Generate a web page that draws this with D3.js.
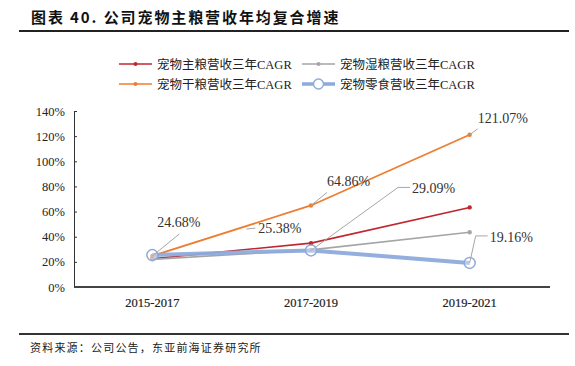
<!DOCTYPE html>
<html>
<head>
<meta charset="utf-8">
<script src="https://cdn.jsdelivr.net/npm/d3@7"></script>
<style>
  body { margin: 0; background: #fff; }
  svg { display: block; }
  text { font-family: "Liberation Serif", "Times New Roman", "Noto Sans CJK SC", serif; }
  .cjk { font-family: "Noto Sans CJK SC", "Liberation Sans", sans-serif; }
</style>
</head>
<body>
<svg id="chart"></svg>
<script>
//////////////// Daten ////////////////////
const kategorien = ["2015-2017", "2017-2019", "2019-2021"];

const zhuliang = [22.5, 34.9, 63.3];      // 宠物主粮
const shiliang = [22.0, 29.5, 43.6];      // 宠物湿粮
const ganliang = [24.68, 64.86, 121.07];  // 宠物干粮
const lingshi  = [25.38, 29.09, 19.16];   // 宠物零食

const yTicks = [0, 20, 40, 60, 80, 100, 120, 140];

const serien = [
  {name: "宠物主粮营收三年CAGR", werte: zhuliang, farbe: "#C0272D", breite: 1.6, typ: "dot"},
  {name: "宠物湿粮营收三年CAGR", werte: shiliang, farbe: "#A5A5A5", breite: 1.6, typ: "dot"},
  {name: "宠物干粮营收三年CAGR", werte: ganliang, farbe: "#ED7D31", breite: 1.8, typ: "dot"},
  {name: "宠物零食营收三年CAGR", werte: lingshi,  farbe: "#8EAADB", breite: 4,   typ: "ring"}
];

// Datenbeschriftungen: Serie, Kategorie, Text-Versatz, Knick der Fuehrungslinie
const beschriftungen = [
  {serie: 2, idx: 0, dx: 5,  dy: -34, knick: [27, -22]},
  {serie: 3, idx: 0, dx: 106, dy: -27, nurStub: true},
  {serie: 2, idx: 1, dx: 16, dy: -24, knick: [16, -13]},
  {serie: 2, idx: 2, dx: 8,  dy: -17, knick: [8, -6]},
  {serie: 3, idx: 1, dx: 101, dy: -62, knick: [87, -63], stub: true},
  {serie: 3, idx: 2, dx: 20, dy: -26, knick: [6, -27], stub: true}
];

//////////////// SVG ////////////////////
const W = 575, H = 366;
const svg = d3.select("#chart").attr("width", W).attr("height", H);

// Titel
svg.append("text")
  .attr("x", 31).attr("y", 23)
  .attr("font-size", 15).attr("font-weight", "bold")
  .attr("letter-spacing", 1.9)
  .attr("fill", "#111")
  .attr("class", "cjk")
  .text("图表 40. 公司宠物主粮营收年均复合增速");
svg.append("line")
  .attr("x1", 19).attr("x2", 569).attr("y1", 31).attr("y2", 31)
  .attr("stroke", "#222").attr("stroke-width", 2);

// Quelle
svg.append("line")
  .attr("x1", 19).attr("x2", 569).attr("y1", 334).attr("y2", 334)
  .attr("stroke", "#333").attr("stroke-width", 2);
svg.append("text")
  .attr("x", 30).attr("y", 352)
  .attr("font-size", 11).attr("letter-spacing", 1.2)
  .attr("fill", "#222")
  .attr("class", "cjk")
  .text("资料来源：公司公告，东亚前海证券研究所");

//////////////// Skalen ////////////////////
const x = d3.scalePoint().domain(kategorien).range([73, 549]).padding(0.5);
const y = d3.scaleLinear().domain([0, 140]).range([287, 111]);

// Y-Achse
const yAxis = svg.append("g")
  .attr("transform", "translate(74,0)")
  .call(d3.axisRight(y).tickValues(yTicks).tickSize(3).tickFormat(""));
yAxis.select(".domain").attr("stroke", "#333");
yAxis.selectAll(".tick line").attr("stroke", "#333");

svg.append("g").selectAll("text")
  .data(yTicks).enter().append("text")
  .attr("x", 65).attr("y", d => y(d) + 4.5)
  .attr("text-anchor", "end")
  .attr("font-size", 12.5).attr("fill", "#222")
  .text(d => d + "%");

// X-Achse
svg.append("line")
  .attr("x1", 74).attr("x2", 550).attr("y1", y(0)).attr("y2", y(0))
  .attr("stroke", "#444").attr("stroke-width", 2);
svg.append("g").selectAll("text")
  .data(kategorien).enter().append("text")
  .attr("x", d => x(d)).attr("y", 307)
  .attr("text-anchor", "middle")
  .attr("font-size", 12.5).attr("fill", "#222")
  .attr("stroke", "#222").attr("stroke-width", 0.2)
  .text(d => d);

//////////////// Linien ////////////////////
const linie = d3.line().x((d, i) => x(kategorien[i])).y(d => y(d));

const gLinien = svg.append("g");
serien.forEach(function(s) {
  gLinien.append("path")
    .datum(s.werte)
    .attr("d", linie)
    .attr("fill", "none")
    .attr("stroke", s.farbe)
    .attr("stroke-width", s.breite)
    .attr("stroke-linejoin", "round")
    .attr("opacity", s.typ == "ring" ? 0.95 : 1);
  gLinien.selectAll(null)
    .data(s.werte).enter().append("circle")
    .attr("cx", (d, i) => x(kategorien[i]))
    .attr("cy", d => y(d))
    .attr("r", s.typ == "ring" ? 5.5 : 2.2)
    .attr("fill", s.typ == "ring" ? "rgba(255,255,255,0.35)" : s.farbe)
    .attr("stroke", s.farbe)
    .attr("stroke-width", s.typ == "ring" ? 1.5 : 0);
});

//////////////// Beschriftungen ////////////////////
const gLabel = svg.append("g");
beschriftungen.forEach(function(b) {
  const wert = serien[b.serie].werte[b.idx];
  const px = x(kategorien[b.idx]), py = y(wert);
  let pfad;
  if (b.nurStub) {
    // nur kurzes Stueck links vom Text
    const sy = py + b.dy;
    pfad = "M" + (px + b.dx - 12) + "," + (sy + 1) + "L" + (px + b.dx - 3) + "," + sy;
  } else {
    const kx = px + b.knick[0], ky = py + b.knick[1];
    pfad = "M" + px + "," + py + "L" + kx + "," + ky;
    if (b.stub) pfad += "L" + (px + b.dx - 2) + "," + ky;
  }
  gLabel.append("path")
    .attr("d", pfad)
    .attr("fill", "none")
    .attr("stroke", "#A6A6A6").attr("stroke-width", 1);
  gLabel.append("text")
    .attr("x", px + b.dx).attr("y", py + b.dy + 5)
    .attr("font-size", 14).attr("fill", "#333")
    .text(d3.format(".2f")(wert) + "%");
});

//////////////// Legende ////////////////////
const legende = svg.append("g");
serien.forEach(function(s, i) {
  const lx = i % 2 == 0 ? 119 : 302;
  const ly = i < 2 ? 64 : 84;
  const g = legende.append("g").attr("transform", "translate(" + lx + "," + ly + ")");
  g.append("line").attr("x1", 0).attr("x2", 33).attr("y1", 0).attr("y2", 0)
    .attr("stroke", s.farbe).attr("stroke-width", s.typ == "ring" ? 3.5 : 1.6);
  g.append("circle").attr("cx", 16.5).attr("cy", 0)
    .attr("r", s.typ == "ring" ? 5 : 2)
    .attr("fill", s.typ == "ring" ? "#fff" : s.farbe)
    .attr("stroke", s.farbe).attr("stroke-width", s.typ == "ring" ? 1.4 : 0);
  g.append("text").attr("x", 38).attr("y", 4.5)
    .attr("font-size", 12.5).attr("fill", "#222")
    .text(s.name);
});
</script>
</body>
</html>
